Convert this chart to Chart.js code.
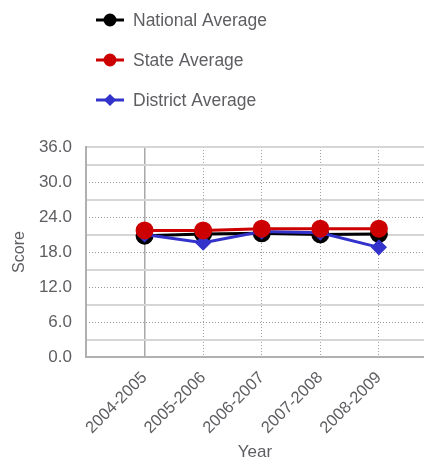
<!DOCTYPE html>
<html>
<head>
<meta charset="utf-8">
<style>
  html, body { margin: 0; padding: 0; background: #ffffff; }
  #wrap { width: 424px; height: 459px; position: relative; }
</style>
<script src="https://cdn.jsdelivr.net/npm/chart.js@4/dist/chart.umd.min.js"></script>
</head>
<body>
<div id="wrap"><canvas id="chart" width="424" height="459"></canvas></div>
<script>
const years = ["2004-2005", "2005-2006", "2006-2007", "2007-2008", "2008-2009"];
const nationalAverage = [20.8, 21.1, 21.2, 21.0, 21.1];
const stateAverage = [21.7, 21.7, 22.0, 22.0, 22.0];
const districtAverage = [21.0, 19.6, 21.5, 21.3, 18.8];

const textColor = "#5e5e62";
const fontFamily = "'Liberation Sans', Arial, sans-serif";

function toPoints(values)
{
    return values.map((v, i) => ({ x: i, y: v }));
}

// legend order as in the picture
const legendItems = [
    { label: "National Average", color: "#000000", style: "circle", radius: 5 },
    { label: "State Average", color: "#cc0000", style: "circle", radius: 5 },
    { label: "District Average", color: "#3333cc", style: "rectRot", radius: 4 }
];

const listLegend =
{
    id: "listLegend",
    afterDraw(chart)
    {
        const ctx = chart.ctx;
        ctx.save();
        ctx.font = "17.5px " + fontFamily;
        ctx.textBaseline = "middle";
        legendItems.forEach((item, i) =>
        {
            const y = 20 + i * 40;
            ctx.strokeStyle = item.color;
            ctx.lineWidth = 3;
            ctx.beginPath();
            ctx.moveTo(96, y);
            ctx.lineTo(124, y);
            ctx.stroke();
            Chart.helpers.drawPoint(ctx,
                { pointStyle: item.style, radius: item.radius, borderWidth: 1 },
                110, y);
            ctx.fillStyle = item.color;
            ctx.fill();
            ctx.fillStyle = textColor;
            ctx.fillText(item.label, 133, y + 1);
        });
        ctx.restore();
    }
};

new Chart(
    document.getElementById("chart"),
    {
        type: "line",
        data:
        {
            datasets: [
                {
                    label: "State Average",
                    data: toPoints(stateAverage),
                    borderColor: "#cc0000",
                    backgroundColor: "#cc0000",
                    borderWidth: 3,
                    pointRadius: 7.5,
                    pointStyle: "circle"
                },
                {
                    label: "District Average",
                    data: toPoints(districtAverage),
                    borderColor: "#3333cc",
                    backgroundColor: "#3333cc",
                    borderWidth: 3,
                    pointRadius: 6,
                    pointStyle: "rectRot"
                },
                {
                    label: "National Average",
                    data: toPoints(nationalAverage),
                    borderColor: "#000000",
                    backgroundColor: "#000000",
                    borderWidth: 3,
                    pointRadius: 7.5,
                    pointStyle: "circle"
                }
            ]
        },
        options:
        {
            responsive: false,
            animation: false,
            layout:
            {
                autoPadding: false,
                padding: { top: 147, right: 0, left: 0, bottom: 0 }
            },
            plugins:
            {
                legend: { display: false },
                tooltip: { enabled: false }
            },
            scales:
            {
                x:
                {
                    type: "linear",
                    position: "bottom",
                    min: -1,
                    max: 4.77,
                    afterFit(scale)
                    {
                        scale.height = 102;
                        scale.paddingRight = 0;
                        scale.paddingLeft = 0;
                    },
                    ticks:
                    {
                        stepSize: 1,
                        autoSkip: false,
                        minRotation: 45,
                        maxRotation: 45,
                        padding: 11,
                        color: textColor,
                        font: { family: fontFamily, size: 16.5 },
                        callback: (v) => (Number.isInteger(v) && years[v]) ? years[v] : null
                    },
                    grid:
                    {
                        drawTicks: false,
                        lineWidth: 1.5,
                        color: (c) => (c.tick && c.tick.value === 0) ? "#a8a8a8" : "rgba(0,0,0,0)"
                    },
                    border: { color: "#b0b0b0", width: 2 },
                    title:
                    {
                        display: true,
                        text: "Year",
                        color: textColor,
                        font: { family: fontFamily, size: 17 },
                        padding: { top: 0, bottom: -4 }
                    }
                },
                x2:
                {
                    type: "linear",
                    position: "top",
                    min: -1,
                    max: 4.77,
                    afterFit(scale) { scale.height = 0; },
                    ticks: { display: false, stepSize: 1 },
                    grid:
                    {
                        drawTicks: false,
                        lineWidth: 1,
                        color: (c) => (c.tick && c.tick.value >= 1 && Number.isInteger(c.tick.value)) ? "#a0a0a0" : "rgba(0,0,0,0)"
                    },
                    border: { display: false, dash: [1, 2] }
                },
                y:
                {
                    min: 0,
                    max: 36,
                    afterFit(scale) { scale.width = 86; },
                    ticks:
                    {
                        stepSize: 3,
                        autoSkip: false,
                        padding: 14,
                        color: textColor,
                        font: { family: fontFamily, size: 17 },
                        callback: (v) => v % 6 === 0 ? v.toFixed(1) : ""
                    },
                    grid:
                    {
                        drawTicks: false,
                        lineWidth: 2,
                        color: (c) => (c.tick && (c.tick.value % 6 !== 0 || c.tick.value === 36)) ? "#d6d6d6" : "rgba(0,0,0,0)"
                    },
                    border: { color: "#b0b0b0", width: 2 },
                    title:
                    {
                        display: true,
                        text: "Score",
                        color: textColor,
                        font: { family: fontFamily, size: 16 },
                        padding: { top: 10, bottom: 0 }
                    }
                },
                y2:
                {
                    position: "left",
                    min: 0,
                    max: 36,
                    afterFit(scale) { scale.width = 0; },
                    ticks: { display: false, stepSize: 6 },
                    grid:
                    {
                        drawTicks: false,
                        lineWidth: 1,
                        color: (c) => (c.tick && c.tick.value > 0 && c.tick.value < 36) ? "#999999" : "rgba(0,0,0,0)"
                    },
                    border: { display: false, dash: [1, 2] }
                }
            }
        },
        plugins: [listLegend]
    }
);
</script>
</body>
</html>
